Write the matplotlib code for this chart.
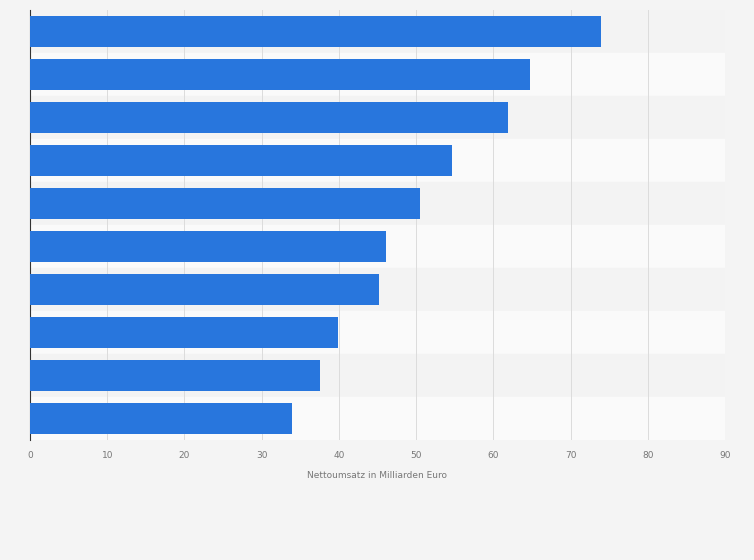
import matplotlib
matplotlib.use("Agg")
import matplotlib.pyplot as plt

# values (billion euro), top to bottom
values = [74.0, 64.8, 61.9, 54.7, 50.5, 46.1, 45.2, 39.9, 37.6, 33.9]
xticks = [0, 10, 20, 30, 40, 50, 60, 70, 80, 90]

fig = plt.figure(figsize=(7.54, 5.60), dpi=100, facecolor="#f4f4f4")
ax = fig.add_axes([30 / 754, 1 - 440 / 560, 695 / 754, 430 / 560])
ax.set_facecolor("#f4f4f4")

n = len(values)
ypos = list(range(n))
for i in ypos:
    ax.axhspan(i - 0.5, i + 0.5, color="#fafafa" if i % 2 else "#f3f3f3", zorder=0)
ax.barh(ypos, values, height=0.7, color="#2876dd", zorder=3)

ax.set_xlim(0, 90)
ax.set_ylim(n - 0.5, -0.5)
ax.set_xticks(xticks)
ax.set_xticklabels([str(t) for t in xticks], fontsize=6.5, color="#777777")
ax.set_yticks([])
ax.tick_params(axis="x", length=0, pad=8)
ax.grid(axis="x", color="#dcdcdc", linestyle="-", linewidth=0.7, zorder=1)
for s in ["top", "right", "bottom"]:
    ax.spines[s].set_visible(False)
ax.spines["left"].set_color("#333333")
ax.spines["left"].set_linewidth(0.8)
ax.set_xlabel("Nettoumsatz in Milliarden Euro", fontsize=6.5, color="#777777", labelpad=8)

fig.savefig("out.png", dpi=100, facecolor=fig.get_facecolor())
